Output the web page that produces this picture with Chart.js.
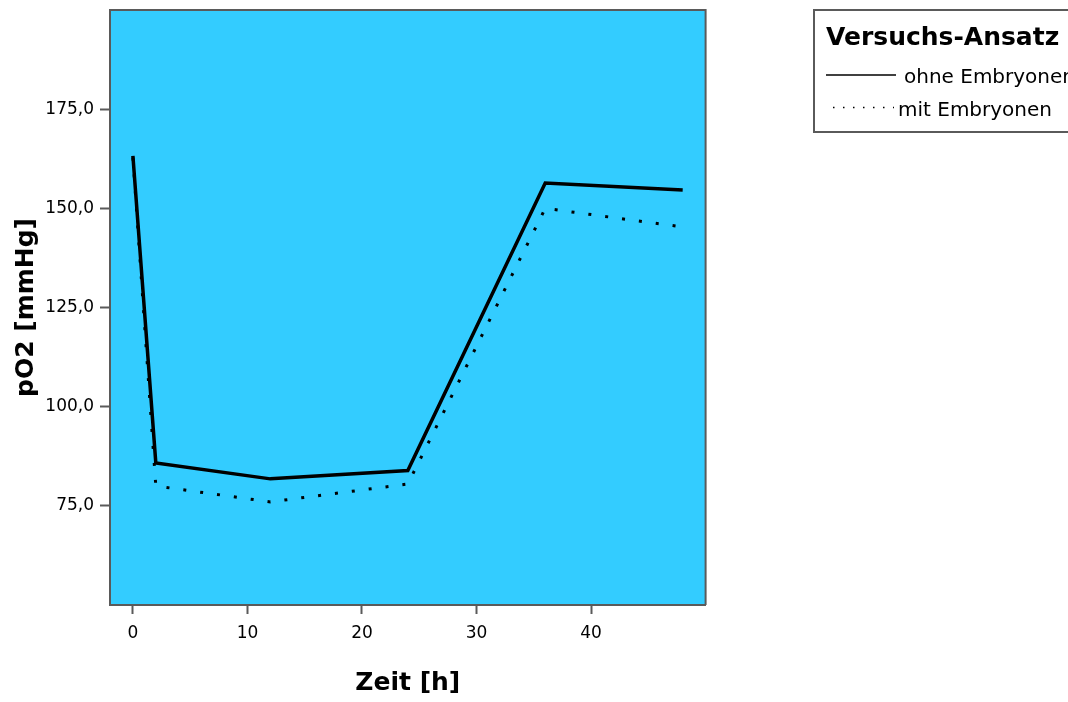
<!DOCTYPE html>
<html lang="de">
<head>
<meta charset="UTF-8">
<title>pO2 Verlauf</title>
<script src="https://cdn.jsdelivr.net/npm/chart.js"></script>
<style>
  html, body { margin: 0; padding: 0; background: #ffffff; }
  canvas { display: block; }
</style>
</head>
<body>
<canvas id="po2Chart" width="1068" height="702"></canvas>
<script>
// Messzeitpunkte und Mittelwerte
const hours = [0, 2, 12, 24, 36, 48];
const ohneEmbryonen = [163.2, 85.8, 81.8, 83.9, 156.4, 154.6];
const mitEmbryonen = [162.8, 80.0, 76.0, 80.5, 150.0, 145.3];
const seriesLabels = ['ohne Embryonen', 'mit Embryonen'];
const legendTitle = 'Versuchs-Ansatz';
const yTicks = [75, 100, 125, 150, 175];
const xTicks = [0, 10, 20, 30, 40];

const toPoints = vals => hours.map((h, i) => ({ x: h, y: vals[i] }));

// blauer Hintergrund der Zeichenfläche
const plotBackground = {
  id: 'plotBackground',
  beforeDraw(chart) {
    const { ctx, chartArea: a } = chart;
    ctx.save();
    ctx.fillStyle = '#33ccff';
    ctx.fillRect(a.left, a.top, a.right - a.left, a.bottom - a.top);
    ctx.restore();
  }
};

// Rahmen oben und rechts
const plotFrame = {
  id: 'plotFrame',
  afterDraw(chart) {
    const { ctx, chartArea: a } = chart;
    ctx.save();
    ctx.strokeStyle = '#5a5a5a';
    ctx.lineWidth = 2;
    ctx.beginPath();
    ctx.moveTo(a.left, a.top);
    ctx.lineTo(a.right, a.top);
    ctx.lineTo(a.right, a.bottom);
    ctx.stroke();
    ctx.restore();
  }
};

// Legende als Kasten rechts oben
const legendBox = {
  id: 'legendBox',
  afterDraw(chart) {
    const ctx = chart.ctx;
    const ds = chart.data.datasets;
    ctx.save();
    ctx.strokeStyle = '#5a5a5a';
    ctx.lineWidth = 2;
    ctx.strokeRect(814, 10, 270, 122);

    ctx.fillStyle = '#000';
    ctx.textBaseline = 'alphabetic';
    ctx.font = 'bold 25px "DejaVu Sans"';
    ctx.fillText(legendTitle, 826, 45);

    ctx.strokeStyle = '#000';
    ctx.lineWidth = 1.5;
    ctx.beginPath();
    ctx.moveTo(826, 75);
    ctx.lineTo(896, 75);
    ctx.stroke();

    ctx.setLineDash([1.5, 8.5]);
    ctx.beginPath();
    ctx.moveTo(833, 107.5);
    ctx.lineTo(894, 107.5);
    ctx.stroke();
    ctx.setLineDash([]);

    ctx.font = '20px "DejaVu Sans"';
    ctx.fillText(ds[0].label, 904, 83);
    ctx.fillText(ds[1].label, 898, 116);
    ctx.restore();
  }
};

const tickFont = { family: 'DejaVu Sans', size: 17 };
const titleFont = { family: 'DejaVu Sans', size: 25, weight: 'bold' };

new Chart(document.getElementById('po2Chart'), {
  type: 'line',
  data: {
    datasets: [
      {
        label: seriesLabels[0],
        data: toPoints(ohneEmbryonen),
        borderColor: '#000',
        borderWidth: 3.5,
        pointRadius: 0,
        tension: 0
      },
      {
        label: seriesLabels[1],
        data: toPoints(mitEmbryonen),
        borderColor: '#000',
        borderWidth: 3,
        borderDash: [3, 14],
        pointRadius: 0,
        tension: 0
      }
    ]
  },
  options: {
    responsive: false,
    animation: false,
    devicePixelRatio: 1,
    layout: { padding: { left: 0, top: 10, right: 362.4, bottom: 0 } },
    plugins: {
      legend: { display: false },
      tooltip: { enabled: false }
    },
    scales: {
      x: {
        type: 'linear',
        min: -2,
        max: 50,
        afterBuildTicks: s => { s.ticks = xTicks.map(v => ({ value: v })); },
        afterFit: s => {
          s.height = 97;
          s.paddingLeft = 0;
          s.paddingRight = 0;
        },
        ticks: { font: tickFont, color: '#000', padding: 9, maxRotation: 0 },
        grid: {
          drawOnChartArea: false,
          drawTicks: true,
          tickLength: 9,
          tickWidth: 2,
          tickColor: '#5a5a5a'
        },
        border: { display: true, color: '#5a5a5a', width: 2 },
        title: {
          display: true,
          text: 'Zeit [h]',
          color: '#000',
          font: titleFont,
          padding: { top: 4, bottom: 4 }
        }
      },
      y: {
        type: 'linear',
        min: 50,
        max: 200,
        afterBuildTicks: s => { s.ticks = yTicks.map(v => ({ value: v })); },
        afterFit: s => {
          s.width = 110;
          s.paddingTop = 0;
          s.paddingBottom = 0;
        },
        ticks: {
          font: tickFont,
          color: '#000',
          padding: 6,
          callback: v => v.toFixed(1).replace('.', ',')
        },
        grid: {
          drawOnChartArea: false,
          drawTicks: true,
          tickLength: 10,
          tickWidth: 2,
          tickColor: '#5a5a5a'
        },
        border: { display: true, color: '#5a5a5a', width: 2 },
        title: {
          display: true,
          text: 'pO2 [mmHg]',
          color: '#000',
          font: titleFont,
          padding: { top: 11, bottom: 4 }
        }
      }
    }
  },
  plugins: [plotBackground, plotFrame, legendBox]
});
</script>
</body>
</html>
